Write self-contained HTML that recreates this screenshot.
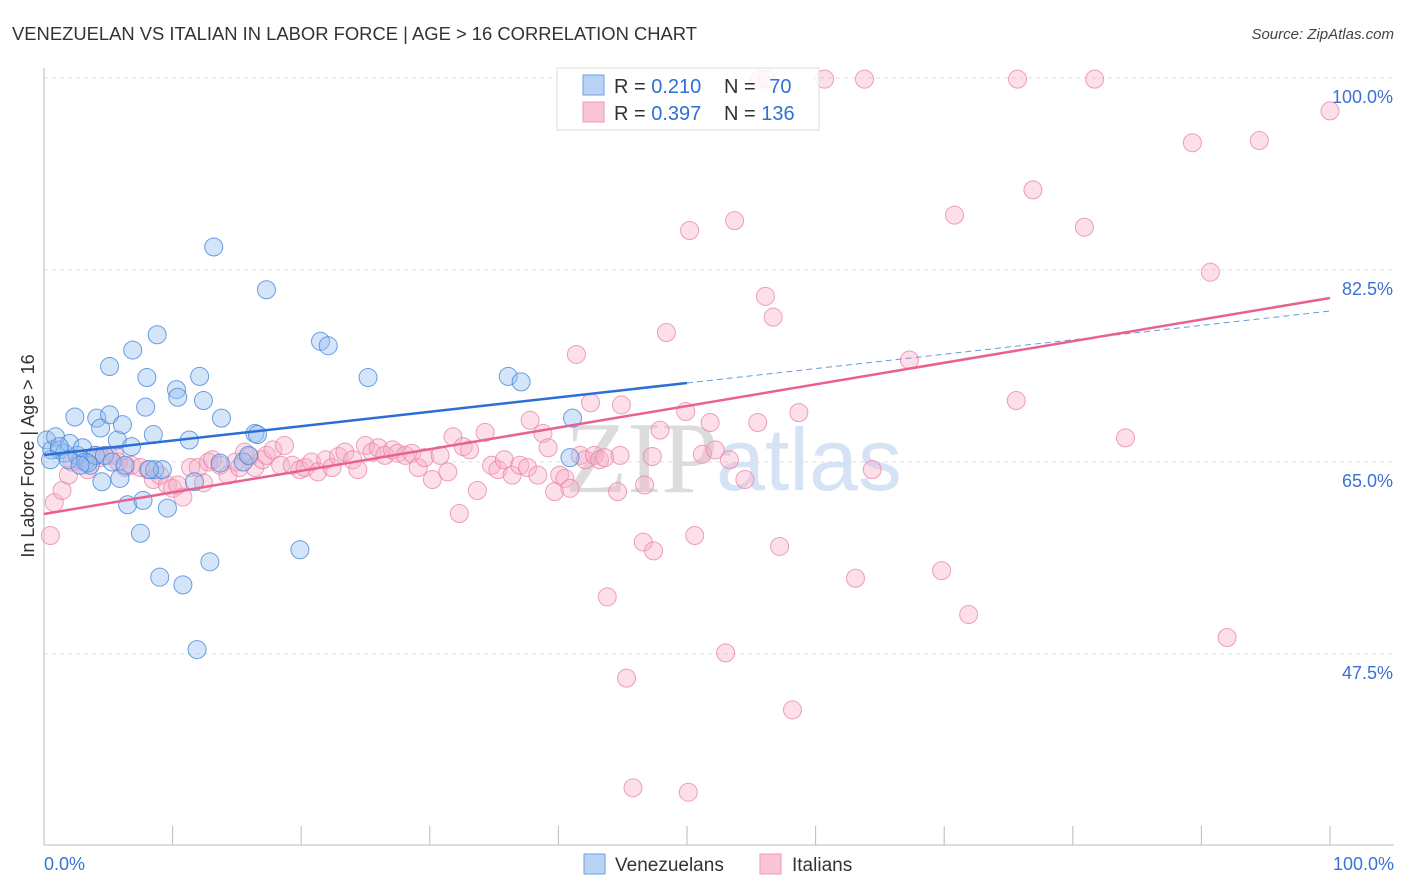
<!DOCTYPE html>
<html><head><meta charset="utf-8"><style>
html,body{margin:0;padding:0;background:#fff;}
svg{display:block;font-family:"Liberation Sans",sans-serif;}
</style></head><body>
<svg id="chart" width="1406" height="892" viewBox="0 0 1406 892" xmlns="http://www.w3.org/2000/svg">
<text x="12" y="40" font-size="18" fill="#333" textLength="685" lengthAdjust="spacingAndGlyphs">VENEZUELAN VS ITALIAN IN LABOR FORCE | AGE &gt; 16 CORRELATION CHART</text>
<text x="1394" y="39" font-size="15" fill="#444" font-style="italic" text-anchor="end">Source: ZipAtlas.com</text>
<g id="grid"></g>
<g id="watermark">
<text x="565" y="492" font-family="Liberation Serif,serif" font-size="102" fill="#dcdcdc">ZIP</text>
<text x="716" y="490" font-family="Liberation Sans,sans-serif" font-size="88" fill="#d5e3f5">atlas</text>
</g>
<g id="axes"></g>
<g id="pts"></g>
<g id="trends"></g>
<text transform="translate(34,456) rotate(-90)" font-size="18" fill="#333" text-anchor="middle">In Labor Force | Age &gt; 16</text>
<g>
<rect x="557" y="68" width="262" height="62" fill="#fff" fill-opacity="0.85" stroke="#ddd"/>
<rect x="583" y="75" width="21" height="20" fill="#b9d3f5" stroke="#6aa0e0"/>
<rect x="583" y="102" width="21" height="20" fill="#f9c4d4" stroke="#ee9ab4"/>
<text x="614" y="93" font-size="20" fill="#333">R = <tspan fill="#2f6fd6">0.210</tspan></text>
<text x="724" y="93" font-size="20" fill="#333">N = <tspan fill="#2f6fd6" dx="8">70</tspan></text>
<text x="614" y="120" font-size="20" fill="#333">R = <tspan fill="#2f6fd6">0.397</tspan></text>
<text x="724" y="120" font-size="20" fill="#333">N = <tspan fill="#2f6fd6">136</tspan></text>
</g>
<g>
<rect x="584" y="854" width="21" height="20" fill="#b9d3f5" stroke="#6aa0e0"/>
<text x="615" y="871" font-size="19" fill="#333">Venezuelans</text>
<rect x="760" y="854" width="21" height="20" fill="#f9c4d4" stroke="#ee9ab4"/>
<text x="792" y="871" font-size="19" fill="#333">Italians</text>
</g>
</svg>
<script>
const yTicks=[47.5,65.0,82.5,100.0];
const yTickLabels=["47.5%","65.0%","82.5%","100.0%"];
const xTickLabels=["0.0%","100.0%"];
const blueX=[0.2,0.6,0.9,1.2,1.6,2.0,2.4,2.6,3.0,3.2,3.6,4.0,4.1,4.4,4.5,4.7,5.1,5.3,5.7,5.9,6.1,6.3,6.5,6.8,6.9,7.5,7.7,7.9,8.0,8.5,8.6,8.8,9.0,9.2,9.6,10.3,10.4,10.8,11.3,11.7,11.9,12.1,12.4,12.9,13.2,13.7,13.8,15.5,15.9,16.4,16.6,17.3,19.9,21.5,22.1,25.2,36.1,37.1,41.1,40.9,5.1,3.4,1.2,1.9,8.2,2.8,0.5];
const blueY=[67.0,66.1,67.3,66.1,65.8,66.7,69.1,65.6,66.3,65.0,64.7,65.6,69.0,68.1,63.2,65.6,69.3,65.0,67.0,63.5,68.4,64.7,61.1,66.4,75.2,58.5,61.5,70.0,72.7,67.5,64.3,76.6,54.5,64.3,60.8,71.6,70.9,53.8,67.0,63.2,47.9,72.8,70.6,55.9,84.6,64.9,69.0,65.0,65.6,67.6,67.5,80.7,57.0,76.0,75.6,72.7,72.8,72.3,69.0,65.4,73.7,64.9,66.4,65.2,64.3,64.7,65.2];
const pinkX=[0.5,0.8,1.4,1.9,2.2,2.8,3.4,4.0,4.4,5.0,5.5,5.8,6.3,6.8,7.5,8.1,8.5,9.0,9.6,10.0,10.4,10.8,11.4,12.0,12.4,12.8,13.1,13.7,14.3,14.9,15.2,15.6,16.0,16.4,17.0,17.3,17.8,18.4,18.7,19.3,19.9,20.3,20.8,21.3,21.9,22.4,22.9,23.4,24.0,24.4,25.0,25.5,26.0,26.5,27.1,27.5,28.1,28.6,29.1,29.6,30.2,30.8,31.4,31.8,32.3,32.6,33.1,33.7,34.3,34.8,35.3,35.8,36.4,37.0,37.6,37.8,38.4,38.8,39.2,39.7,40.1,40.5,40.9,41.4,41.7,42.1,42.5,42.8,43.2,43.6,43.8,44.6,44.8,44.9,45.3,45.8,46.6,46.7,47.3,47.4,47.9,48.4,49.9,50.1,50.2,50.6,51.2,51.8,52.2,53.0,53.3,53.7,54.5,55.5,55.7,56.2,56.1,56.7,57.2,58.2,58.7,60.7,63.1,63.8,64.4,67.3,69.8,70.8,71.9,75.6,75.7,76.9,80.9,81.7,84.1,89.3,90.7,92.0,94.5,100.0];
const pinkY=[58.3,61.3,62.4,63.8,65.0,65.2,64.3,65.6,65.4,65.6,65.6,65.0,64.5,64.7,64.5,64.3,63.4,63.8,62.9,62.6,62.9,61.8,64.5,64.5,63.1,65.0,65.2,64.7,63.8,65.0,64.5,65.9,65.5,64.5,65.2,65.6,66.1,64.7,66.5,64.7,64.3,64.5,65.0,64.1,65.2,64.5,65.5,65.9,65.2,64.3,66.5,65.9,66.3,65.6,66.1,65.8,65.6,65.8,64.5,65.4,63.4,65.6,64.1,67.3,60.3,66.4,66.1,62.4,67.7,64.7,64.3,65.2,63.8,64.7,64.5,68.8,63.8,67.6,66.3,62.3,63.8,63.5,62.6,74.8,65.6,65.2,70.4,65.6,65.2,65.4,52.7,62.3,65.6,70.2,45.3,35.3,57.7,62.9,65.5,56.9,67.9,76.8,69.6,34.9,86.1,58.3,65.7,68.6,66.1,47.6,65.2,87.0,63.4,68.6,99.9,99.9,80.1,78.2,57.3,42.4,69.5,99.9,54.4,99.9,64.3,74.3,55.1,87.5,51.1,70.6,99.9,89.8,86.4,99.9,67.2,94.1,82.3,49.0,94.3,97.0];
const blueTrend=[65.64,78.76];
const pinkTrend=[60.26,79.95];
const blueSolidEnd=50;

const NS="http://www.w3.org/2000/svg";
const X0=44,X1=1330,Y100=78,PXPER=10.971;
function sx(v){return X0+(X1-X0)*v/100;}
function sy(v){return Y100+(100-v)*PXPER;}
function mk(tag,attrs,parent){const e=document.createElementNS(NS,tag);for(const k in attrs)e.setAttribute(k,attrs[k]);parent.appendChild(e);return e;}
const grid=document.getElementById('grid'),axes=document.getElementById('axes'),pts=document.getElementById('pts'),tr=document.getElementById('trends');
yTicks.forEach((t,i)=>{
  const l=mk('line',{x1:X0,x2:1394,y1:sy(t),y2:sy(t),stroke:'#ddd','stroke-dasharray':'4,4'},grid);
  
  
  const tx=mk('text',{x:1393,y:sy(t)+25,'font-size':18,fill:'#3a72d4','text-anchor':'end'},axes);
  tx.textContent=yTickLabels[i];
  
  
});
let a=mk('line',{x1:X0,x2:X0,y1:68,y2:845,stroke:'#bbb'},axes);


a=mk('line',{x1:X0,x2:1394,y1:845,y2:845,stroke:'#bbb'},axes);


for(let i=0;i<=10;i++){
  const t=mk('line',{x1:sx(i*10),x2:sx(i*10),y1:826,y2:845,stroke:'#bbb'},axes);
  
  
}
let xt=mk('text',{x:44,y:870,'font-size':18,fill:'#3a72d4'},axes);xt.textContent=xTickLabels[0];


xt=mk('text',{x:1394,y:870,'font-size':18,fill:'#3a72d4','text-anchor':'end'},axes);xt.textContent=xTickLabels[1];


pinkX.forEach((v,i)=>{
  const c=mk('circle',{cx:sx(v),cy:sy(pinkY[i]),r:9,fill:'rgba(247,176,200,0.4)',stroke:'rgba(232,130,165,0.75)','stroke-width':1},pts);
  
  
});
blueX.forEach((v,i)=>{
  const c=mk('circle',{cx:sx(v),cy:sy(blueY[i]),r:9,fill:'rgba(150,190,240,0.4)',stroke:'rgba(70,135,220,0.8)','stroke-width':1},pts);
  
  
});
function ty(tr,x){return tr[0]+(tr[1]-tr[0])*x/100;}
let l=mk('line',{x1:sx(0),y1:sy(ty(blueTrend,0)),x2:sx(blueSolidEnd),y2:sy(ty(blueTrend,blueSolidEnd)),stroke:'#2a6fd6','stroke-width':2.5},tr);


l=mk('line',{x1:sx(blueSolidEnd),y1:sy(ty(blueTrend,blueSolidEnd)),x2:sx(100),y2:sy(ty(blueTrend,100)),stroke:'#6a9ad8','stroke-width':1,'stroke-dasharray':'6,4'},tr);


l=mk('line',{x1:sx(0),y1:sy(ty(pinkTrend,0)),x2:sx(100),y2:sy(ty(pinkTrend,100)),stroke:'#e8628e','stroke-width':2.5},tr);


</script>
</body></html>
